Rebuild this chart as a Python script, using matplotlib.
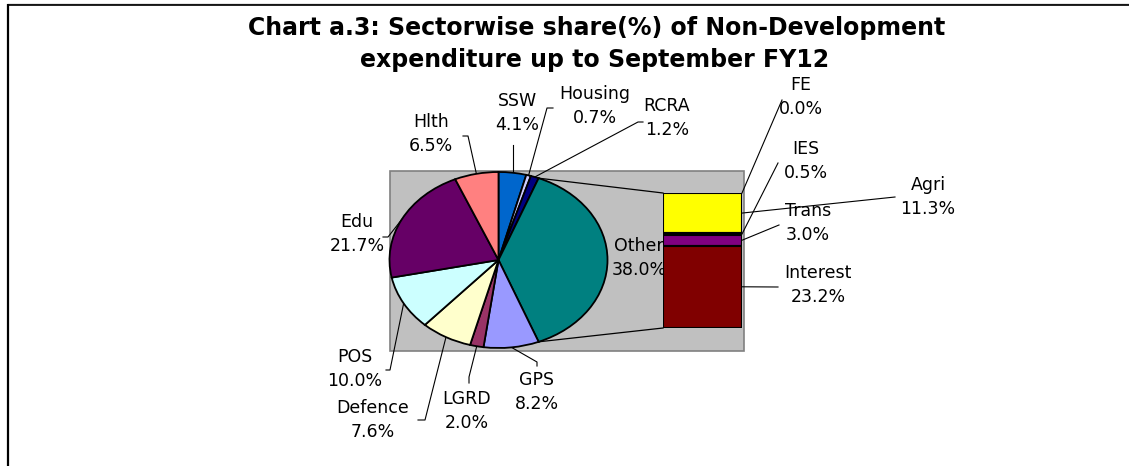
import matplotlib
matplotlib.use("Agg")
import matplotlib.pyplot as plt
import numpy as np
from matplotlib.patches import Rectangle

plt.rcParams['font.family'] = ['DejaVu Sans']

# ---- data ----
pie_labels = ["SSW", "Housing", "RCRA", "Other", "GPS", "LGRD", "Defence", "POS", "Edu", "Hlth"]
pie_values = [4.1, 0.7, 1.2, 38.0, 8.2, 2.0, 7.6, 10.0, 21.7, 6.5]
pie_colors = ["#0066CC", "#CCCCFF", "#000080", "#008080", "#9999FF", "#993366",
              "#FFFFCC", "#CCFFFF", "#660066", "#FF8080"]

bar_labels = ["FE", "Agri", "IES", "Trans", "Interest"]
bar_values = [0.0, 11.3, 0.5, 3.0, 23.2]
bar_colors = ["#FF00FF", "#FFFF00", "#00FFFF", "#800080", "#800000"]

title_lines = ["Chart a.3: Sectorwise share(%) of Non-Development",
               "expenditure up to September FY12"]

W, H = 1129, 466
fig = plt.figure(figsize=(W / 100, H / 100), dpi=100)

# overlay axes in pixel coordinates (y downwards)
ax = fig.add_axes([0, 0, 1, 1])
ax.set_xlim(0, W)
ax.set_ylim(H, 0)
ax.axis('off')

# frame lines
ax.plot([7, W], [3.5, 3.5], color="#808080", lw=1.0, solid_capstyle='butt')
ax.plot([7, W], [4.5, 4.5], color="black", lw=1.2, solid_capstyle='butt')
ax.plot([7.5, 7.5], [3.5, H], color="black", lw=1.6, solid_capstyle='butt')

# plot area
ax.add_patch(Rectangle((390, 171), 354, 180, facecolor="#C0C0C0",
                       edgecolor="#808080", lw=1.2))

# title
ax.text(597, 35.5, title_lines[0], ha='center', va='baseline', fontsize=17, fontweight='bold')
ax.text(595, 67.5, title_lines[1], ha='center', va='baseline', fontsize=17, fontweight='bold')

# pie axes (elliptical)
pie_box = (389.5, 172, 218, 176)  # left, top, width, height in pixels
ax_pie = fig.add_axes([pie_box[0] / W, 1 - (pie_box[1] + pie_box[3]) / H,
                       pie_box[2] / W, pie_box[3] / H])
ax_pie.pie(pie_values, colors=pie_colors, startangle=90, counterclock=False,
           radius=1.0, wedgeprops=dict(edgecolor='black', linewidth=1.3))
ax_pie.set_aspect('auto')
ax_pie.set_xlim(-1, 1)
ax_pie.set_ylim(-1, 1)
ax_pie.axis('off')

# bar axes
bar_box = (663, 193, 79, 135)
ax_bar = fig.add_axes([bar_box[0] / W, 1 - (bar_box[1] + bar_box[3]) / H,
                       bar_box[2] / W, bar_box[3] / H])
bar_total = sum(bar_values)
bottoms = np.concatenate([[0], np.cumsum(bar_values)[:-1]])
ax_bar.bar([0] * len(bar_values), bar_values, bottom=bottoms, width=1.0,
           color=bar_colors, edgecolor='black', linewidth=1.5)
ax_bar.set_xlim(-0.5, 0.5)
ax_bar.set_ylim(bar_total, 0)
ax_bar.axis('off')


def to_main(a, pt):
    disp = a.transData.transform(pt)
    return ax.transData.inverted().transform(disp)


total = sum(pie_values)
cum = np.concatenate([[0], np.cumsum(pie_values)])


def pie_pt(frac):
    ang = np.deg2rad(90 - 360 * frac)
    return to_main(ax_pie, (np.cos(ang), np.sin(ang)))


# connector lines from Other wedge to bar
i_other = pie_labels.index("Other")
p1 = pie_pt(cum[i_other] / total)
p2 = pie_pt(cum[i_other + 1] / total)
b1 = to_main(ax_bar, (-0.5, 0))
b2 = to_main(ax_bar, (-0.5, bar_total))
ax.plot([p1[0], b1[0]], [p1[1], b1[1]], color='black', lw=0.9)
ax.plot([p2[0], b2[0]], [p2[1], b2[1]], color='black', lw=0.9)

fs = 12.5
pie_label_layout = {
    "SSW": ((517, 113), [(None, 145)]),
    "Housing": ((595, 106), [(547, 108), (553, 108)]),
    "RCRA": ((667, 118), [(638, 122), (643, 122)]),
    "Hlth": ((431, 134), [(468, 136), (463, 136)]),
    "Edu": ((357, 234), [(388, 237), (383, 237)]),
    "POS": ((355, 369), [(390, 370), (386, 370)]),
    "Defence": ((373, 420), [(425, 420), (418, 420)]),
    "LGRD": ((467, 411), [(469, 377), (469, 383)]),
    "GPS": ((537, 392), [(537, 362), (537, 366)]),
    "Other": ((639, 258), []),
}


def draw_label(name, val, center):
    cx, cy = center
    ax.text(cx, cy - 12, name, ha='center', va='center', fontsize=fs)
    ax.text(cx, cy + 12, f"{val:.1f}%", ha='center', va='center', fontsize=fs)


for i, (name, val) in enumerate(zip(pie_labels, pie_values)):
    center, path = pie_label_layout[name]
    draw_label(name, val, center)
    if path:
        start = pie_pt((cum[i] + cum[i + 1]) / 2 / total)
        xs = [start[0]]
        ys = [start[1]]
        for (px, py) in path:
            xs.append(start[0] if px is None else px)
            ys.append(py)
        ax.plot(xs, ys, color='black', lw=0.8)

bar_label_layout = {
    "FE": ((801, 97), (782, 100)),
    "IES": ((806, 161), (778, 163)),
    "Agri": ((928, 197), (895, 197)),
    "Trans": ((808, 223), (779, 225)),
    "Interest": ((818, 285), (778, 287)),
}
for i, (name, val) in enumerate(zip(bar_labels, bar_values)):
    center, end = bar_label_layout[name]
    draw_label(name, val, center)
    start = to_main(ax_bar, (0.5, bottoms[i] + val / 2))
    ax.plot([start[0], end[0]], [start[1], end[1]], color='black', lw=0.8)

fig.savefig("out.png", dpi=100)
